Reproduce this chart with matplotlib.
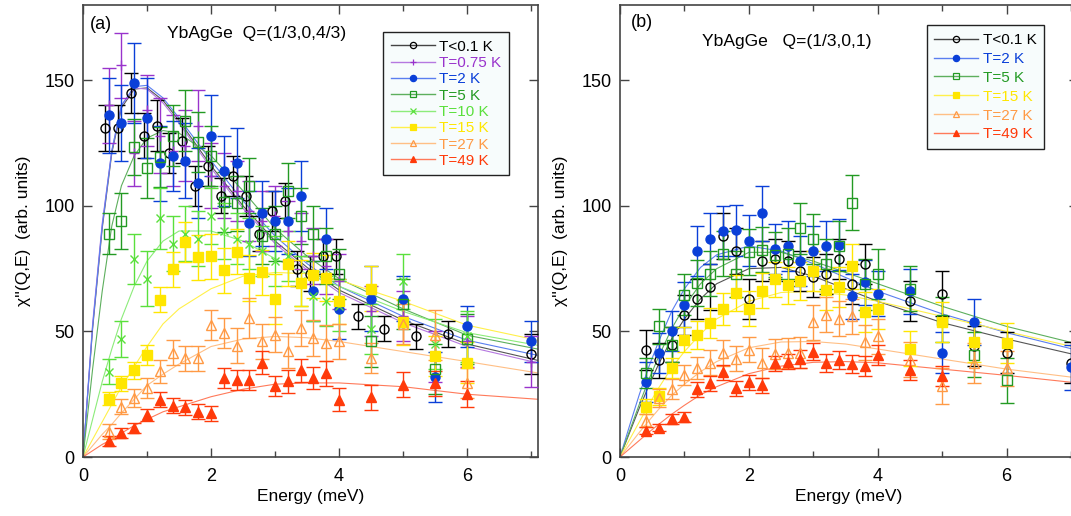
import matplotlib
matplotlib.use("Agg")
import matplotlib.pyplot as plt
from matplotlib.lines import Line2D
from matplotlib.ticker import MultipleLocator

plt.rcParams['font.family'] = ['Liberation Sans', 'DejaVu Sans']

# ---------------- Panel (a): YbAgGe Q=(1/3,0,4/3) ----------------
E_a_black = [0.35, 0.55, 0.75, 0.95, 1.15, 1.35, 1.55, 1.75, 1.95, 2.15, 2.35, 2.55,
             2.75, 2.95, 3.15, 3.35, 3.55, 3.75, 3.95, 4.3, 4.7, 5.2, 5.7, 7.0]
v_a_black = [131, 131, 145, 128, 132, 121, 126, 108, 116, 104, 112, 104,
             89, 98, 102, 75, 73, 80, 80, 56, 51, 48, 49, 41]
e_a_black = [9, 9, 8, 9, 10, 8, 9, 8, 8, 7, 8, 8, 7, 8, 7, 7, 7, 7, 7, 5, 5, 5, 5, 8]

E_a_full = [0.4, 0.6, 0.8, 1.0, 1.2, 1.4, 1.6, 1.8, 2.0, 2.2, 2.4, 2.6, 2.8, 3.0,
            3.2, 3.4, 3.6, 3.8, 4.0, 4.5, 5.0, 5.5, 6.0, 7.0]
v_a_purple = [140, 156, 121, 138, 128, 122, 124, 132, 112, 108, 106, 98, 94, 96,
              90, 86, 80, 76, 70, 58, 56, 40, 46, 38]
e_a_purple = [15, 13, 13, 14, 15, 14, 14, 14, 13, 13, 12, 12, 12, 12,
              12, 11, 11, 11, 11, 10, 10, 10, 10, 10]
v_a_blue = [136, 133, 149, 135, 117, 120, 118, 109, 128, 114, 117, 93, 97, 94,
            94, 104, 66, 87, 59, 63, 63, 32, 52, 46]
e_a_blue = [15, 15, 16, 16, 15, 14, 15, 14, 16, 14, 14, 13, 13, 12,
            13, 14, 12, 12, 12, 13, 9, 10, 8, 8]

E_a_part = [0.4, 0.6, 0.8, 1.0, 1.2, 1.4, 1.6, 1.8, 2.0, 2.2, 2.4, 2.6, 2.8, 3.0,
            3.2, 3.4, 3.6, 3.8, 4.0, 4.5, 5.0, 5.5, 6.0]
v_a_green = [89, 94, 123.5, 115, 119.5, 128, 134, 125.5, 120, 101.5, 101, 108, 88, 89,
             106, 96, 89, 80, 73, 46, 61, 35, 47]
e_a_green = [8, 11, 11, 12, 12, 12, 12, 12, 12, 12, 11, 11, 11, 11,
             11, 11, 11, 11, 10, 10, 10, 10, 10]
v_a_lgreen = [34, 47, 79, 71, 95, 85, 89, 87, 96, 90, 87, 85, 82, 78,
              80, 70, 64, 62, 60, 51, 70, 45, 48]
e_a_lgreen = [5, 7, 10, 11, 12, 11, 11, 11, 11, 11, 10, 10, 10, 10,
              10, 10, 10, 10, 10, 10, 11, 10, 10]
v_a_yellow = [23.2, 29.4, 34.5, 40.7, 62.7, 74.7, 85.6, 79.6, 80, 74.3, 81.8, 71.3, 73.6, 63,
              76.9, 69.3, 72.3, 71.3, 62, 67, 53.6, 40.3, 37.6]
e_a_yellow = [2.5, 3, 3.5, 4, 5, 7, 8, 9, 9, 9, 9, 9, 9, 10,
              9, 9, 9, 9, 9, 9, 9, 8, 8]
v_a_orange = [10, 20.1, 23.4, 27.4, 34.1, 41.6, 39.4, 39.4, 52.7, 49.4, 44.3, 55.4, 46, 48.7,
              42.4, 51.4, 47.4, 45.4, 46, 39.4, 53, 48.7, 29.4]
e_a_orange = [3, 3, 3.5, 4, 4.5, 5, 5, 5, 6, 6, 7, 8, 7, 7,
              7, 7, 7, 7, 7, 6, 8, 10, 6]
v_a_red = [6.4, 9.4, 11.4, 16.8, 22.8, 20.4, 19.8, 18.1, 17.4, 31.4, 30.7, 30.7, 37.6, 28.1,
           30.1, 34.5, 31.4, 33.4, 22.8, 23.8, 28.7, 29.4, 25.1]
e_a_red = [2, 2, 2, 2.5, 3, 3, 3, 3, 3, 4, 4, 4, 4.5, 4,
           4.5, 4.5, 4.5, 5, 4.5, 5, 5, 5, 5]

# fit curves
E_fit = [0, 0.15, 0.3, 0.45, 0.6, 0.8, 1.0, 1.25, 1.5, 2.0, 2.5, 3.0, 3.5, 4.0, 5.0, 6.0, 7.1]
f_a_black = [0, 51, 91, 121, 139, 146.5, 147, 142, 134, 116, 100, 86, 75.5, 66.5, 54.5, 45, 38.5]
f_a_purple = [0, 53, 93, 122, 140, 147, 146.5, 141, 133, 115, 99, 85, 74.5, 65.5, 53.5, 44, 37.5]
f_a_blue = [0, 52, 92, 122, 140, 147.5, 148, 143, 135, 118, 102, 88, 77, 68, 56, 46.5, 40.5]
f_a_green = [0, 35, 66, 92, 108, 120, 127, 130, 129, 120, 106, 91, 80, 71, 59, 48.5, 43]
f_a_lgreen = [0, 15, 30, 43, 55, 68, 78, 86, 90, 90, 86, 79, 73, 68, 58, 49.5, 44.5]
f_a_yellow = [0, 7, 14, 21, 28, 36, 44, 53, 59, 67, 72, 73.5, 73, 70.5, 62, 52.5, 46.5]
f_a_orange = [0, 4.5, 9, 13, 17.5, 23, 28.5, 33, 37, 44, 47, 48, 47.5, 46, 42, 38, 33.5]
f_a_red = [0, 2.5, 5, 7, 9.5, 12.5, 15, 18, 20, 24, 27, 29, 29.5, 29.5, 28, 25, 23]

# ---------------- Panel (b): YbAgGe Q=(1/3,0,1) ----------------
E_b_black = [0.4, 0.6, 0.8, 1.0, 1.2, 1.4, 1.6, 1.8, 2.0, 2.2, 2.4, 2.6, 2.8, 3.0,
             3.2, 3.4, 3.6, 3.8, 4.5, 5.0, 5.5, 6.0, 7.0]
v_b_black = [42.7, 38.5, 44.7, 56.7, 62.9, 67.7, 88, 82, 62.9, 78, 78.9, 78, 74, 71.7,
             73, 78.9, 69, 77, 62, 65, 44.3, 41.6, 37.6]
e_b_black = [8, 7, 7, 8, 8, 9, 9, 9, 8, 8, 8, 8, 8, 8, 8, 8, 8, 8, 8, 9, 8, 8, 8]
E_b_blue = [0.4, 0.6, 0.8, 1.0, 1.2, 1.4, 1.6, 1.8, 2.0, 2.2, 2.4, 2.6, 2.8, 3.0,
            3.2, 3.4, 3.6, 3.8, 4.0, 4.5, 5.0, 5.5, 7.0]
v_b_blue = [30, 41.4, 50.3, 60.7, 82, 87, 90, 90.2, 86.2, 97.1, 82.9, 84, 78, 82,
            84, 84.6, 64, 69.6, 65, 66, 41.6, 53.8, 35.8]
e_b_blue = [8, 8, 8, 9, 10, 10, 10, 10, 10, 11, 10, 10, 10, 10,
            10, 10, 9, 9, 9, 9, 8, 9, 9]
E_b_part = [0.4, 0.6, 0.8, 1.0, 1.2, 1.4, 1.6, 1.8, 2.0, 2.2, 2.4, 2.6, 2.8, 3.0,
            3.2, 3.4, 3.6, 3.8, 4.0, 4.5, 5.0, 5.5, 6.0]
v_b_green = [33.4, 52, 44.7, 64.7, 69.3, 73, 81, 72.9, 81.6, 82.6, 80.6, 81, 91, 86.9,
             77, 84, 101.3, 68.7, 72.9, 67, 54.7, 40.7, 30.5]
e_b_green = [6, 7, 7, 8, 9, 9, 9, 9, 9, 9, 9, 10, 10, 10,
             10, 10, 11, 10, 10, 9, 9, 9, 9]
v_b_yellow = [20.1, 24.1, 35.4, 46.7, 48.7, 53.4, 59, 65.3, 59, 66.3, 70.7, 68.3, 70, 74,
              66.7, 67.7, 76, 57.6, 59, 43.1, 53.6, 45.8, 45.4]
e_b_yellow = [3, 3.5, 4, 5, 5.5, 6, 6.5, 7, 7, 7, 7, 7.5, 7.5, 8,
              8, 8, 9, 8, 8, 7, 8, 8, 8]
v_b_orange = [14.5, 23.4, 27, 32.7, 35.4, 37.6, 41.4, 39.1, 42.7, 37.6, 41, 41.4, 41.6, 53.6,
              56.7, 55, 56, 45.6, 48, 38.7, 28.3, 37.4, 35.4]
e_b_orange = [2.5, 3.5, 4, 4, 4.5, 5, 5, 5, 5, 6, 6, 6, 6, 7,
              7, 7, 7, 7, 7, 7, 7, 8, 7]
E_b_red = [0.4, 0.6, 0.8, 1.0, 1.2, 1.4, 1.6, 1.8, 2.0, 2.2, 2.4, 2.6, 2.8, 3.0,
           3.2, 3.4, 3.6, 3.8, 4.0, 4.5, 5.0]
v_b_red = [10.5, 11.7, 15, 15.8, 27, 29.4, 33.7, 27.4, 29.7, 28.5, 37.4, 38, 39, 42,
           37.4, 38.7, 37, 36.3, 40.7, 34.5, 32.1]
e_b_red = [1.5, 1.5, 2, 2, 3, 3, 3, 3, 3, 3, 3, 3, 3.5, 3.5,
           3.5, 3.5, 3.5, 4, 4, 4, 4]

f_b_black = [0, 9.8, 19.5, 28.5, 37, 47, 55, 63, 69, 75, 75.5, 72, 67, 62, 53.5, 47, 40.5]
f_b_blue = [0, 12.6, 24.9, 36.1, 46, 57.9, 67, 75.5, 80.5, 84, 82, 77, 71.5, 66, 57, 49.5, 42.5]
f_b_green = [0, 10.5, 21, 31, 40, 51, 60, 69, 75, 81.5, 81.5, 78, 73.5, 69, 60, 52, 45]
f_b_yellow = [0, 7, 14, 21, 27.5, 35.5, 42, 49, 55, 62, 65.5, 66, 64.5, 62, 56, 50, 43.5]
f_b_orange = [0, 4.9, 9.8, 14.5, 19, 24.5, 29, 34, 38, 43.5, 45.8, 46, 45, 43, 39, 35, 31.5]
f_b_red = [0, 3.3, 6.6, 9.9, 13, 17, 20.6, 24.8, 28, 33.2, 36.2, 37.7, 38, 37.5, 35, 32.5, 29.5]

labels_a = ["T<0.1 K", "T=0.75 K", "T=2 K", "T=5 K", "T=10 K", "T=15 K", "T=27 K", "T=49 K"]
labels_b = ["T<0.1 K", "T=2 K", "T=5 K", "T=15 K", "T=27 K", "T=49 K"]

# ---------------- styles ----------------
STY = {
    "T<0.1 K": dict(c="#000000", fit="#555555", m="o", fill=False, txt="#000000"),
    "T=0.75 K": dict(c="#9933cc", fit="#b578e0", m="+", fill=True, txt="#9933cc"),
    "T=2 K": dict(c="#0a3fd8", fit="#5a7ef0", m="o", fill=True, txt="#0a3fd8"),
    "T=5 K": dict(c="#239a23", fit="#5daf5d", m="s", fill=False, txt="#239a23"),
    "T=10 K": dict(c="#5ae03c", fit="#8cec7a", m="x", fill=True, txt="#5ae03c"),
    "T=15 K": dict(c="#ffe600", fit="#fff04a", m="s", fill=True, txt="#ffe600"),
    "T=27 K": dict(c="#ff9a45", fit="#ffbf85", m="^", fill=False, txt="#ff9a45"),
    "T=49 K": dict(c="#ff3a0a", fit="#ff7a5a", m="^", fill=True, txt="#ff3a0a"),
}
MS = {"o": 6.5, "s": 6.5, "^": 6.5, "+": 7, "x": 6}


def draw(ax, lab, E, v, err, fit):
    s = STY[lab]
    ax.plot(E_fit, fit, color=s["fit"], lw=0.8, zorder=1)
    mfc = s["c"] if s["fill"] else "none"
    ax.errorbar(E, v, yerr=err, fmt=s["m"], ms=MS[s["m"]], mfc=mfc, mec=s["c"],
                mew=1.0, ecolor=s["c"], elinewidth=1.0, capsize=5, capthick=1.0,
                zorder=3)


def style(ax):
    ax.set_xlim(0, 7.1)
    ax.set_ylim(0, 180)
    ax.xaxis.set_major_locator(MultipleLocator(2))
    ax.xaxis.set_minor_locator(MultipleLocator(1))
    ax.yaxis.set_major_locator(MultipleLocator(50))
    ax.tick_params(which="both", direction="in", top=True, right=True,
                   labelsize=13, color="#444444", width=1.0)
    ax.tick_params(which="major", length=6.5)
    ax.tick_params(which="minor", length=4)
    ax.tick_params(axis="x", which="major", pad=8)
    ax.tick_params(axis="y", which="major", pad=6)
    for sp in ax.spines.values():
        sp.set_color("#444444")
        sp.set_linewidth(1.2)
    ax.set_xlabel("Energy (meV)", fontsize=12.5, labelpad=3)


def legend(ax, labels, anchor, spacing):
    handles = []
    for lab in labels:
        s = STY[lab]
        mfc = s["c"] if s["fill"] else "none"
        handles.append(Line2D([0], [0], color=s["fit"] if lab != "T<0.1 K" else "#444444",
                              lw=1.0, marker=s["m"], ms=4.5, mfc=mfc, mec=s["c"], mew=0.9))
    leg = ax.legend(handles, labels, loc="upper left", bbox_to_anchor=anchor,
                    fontsize=11, frameon=True, fancybox=False, framealpha=1,
                    edgecolor="#222222", facecolor="#f7fcfc", handlelength=2.9,
                    handletextpad=0.3, labelspacing=spacing, borderpad=0.5,
                    borderaxespad=0)
    leg.get_frame().set_linewidth(1.0)
    for t, lab in zip(leg.get_texts(), labels):
        t.set_color(STY[lab]["txt"])
    leg.set_zorder(10)


fig = plt.figure(figsize=(10.71, 5.16), dpi=100)
ax_a = fig.add_axes([83 / 1071, 59 / 516, 454.5 / 1071, 452 / 516])
ax_b = fig.add_axes([620 / 1071, 59 / 516, 457.5 / 1071, 452 / 516])

draw(ax_a, "T<0.1 K", E_a_black, v_a_black, e_a_black, f_a_black)
draw(ax_a, "T=0.75 K", E_a_full, v_a_purple, e_a_purple, f_a_purple)
draw(ax_a, "T=2 K", E_a_full, v_a_blue, e_a_blue, f_a_blue)
draw(ax_a, "T=5 K", E_a_part, v_a_green, e_a_green, f_a_green)
draw(ax_a, "T=10 K", E_a_part, v_a_lgreen, e_a_lgreen, f_a_lgreen)
draw(ax_a, "T=15 K", E_a_part, v_a_yellow, e_a_yellow, f_a_yellow)
draw(ax_a, "T=27 K", E_a_part, v_a_orange, e_a_orange, f_a_orange)
draw(ax_a, "T=49 K", E_a_part, v_a_red, e_a_red, f_a_red)

draw(ax_b, "T<0.1 K", E_b_black, v_b_black, e_b_black, f_b_black)
draw(ax_b, "T=2 K", E_b_blue, v_b_blue, e_b_blue, f_b_blue)
draw(ax_b, "T=5 K", E_b_part, v_b_green, e_b_green, f_b_green)
draw(ax_b, "T=15 K", E_b_part, v_b_yellow, e_b_yellow, f_b_yellow)
draw(ax_b, "T=27 K", E_b_part, v_b_orange, e_b_orange, f_b_orange)
draw(ax_b, "T=49 K", E_b_red, v_b_red, e_b_red, f_b_red)

style(ax_a)
style(ax_b)
ax_a.set_ylabel("χ''(Q,E)  (arb. units)", fontsize=12.5, labelpad=10)
ax_b.set_ylabel("χ''(Q,E)  (arb. units)", fontsize=12.5, labelpad=10)

ax_a.text(0.015, 0.957, "(a)", transform=ax_a.transAxes, fontsize=13, va="center", ha="left")
ax_a.text(0.185, 0.938, "YbAgGe  Q=(1/3,0,4/3)", transform=ax_a.transAxes, fontsize=12.6,
          va="center", ha="left")
ax_b.text(0.024, 0.962, "(b)", transform=ax_b.transAxes, fontsize=13, va="center", ha="left")
ax_b.text(0.179, 0.920, "YbAgGe   Q=(1/3,0,1)", transform=ax_b.transAxes, fontsize=12.6,
          va="center", ha="left")

legend(ax_a, labels_a, (0.66, 0.94), 0.15)
legend(ax_b, labels_b, (0.67, 0.955), 0.32)

fig.savefig("out.png", dpi=100)
